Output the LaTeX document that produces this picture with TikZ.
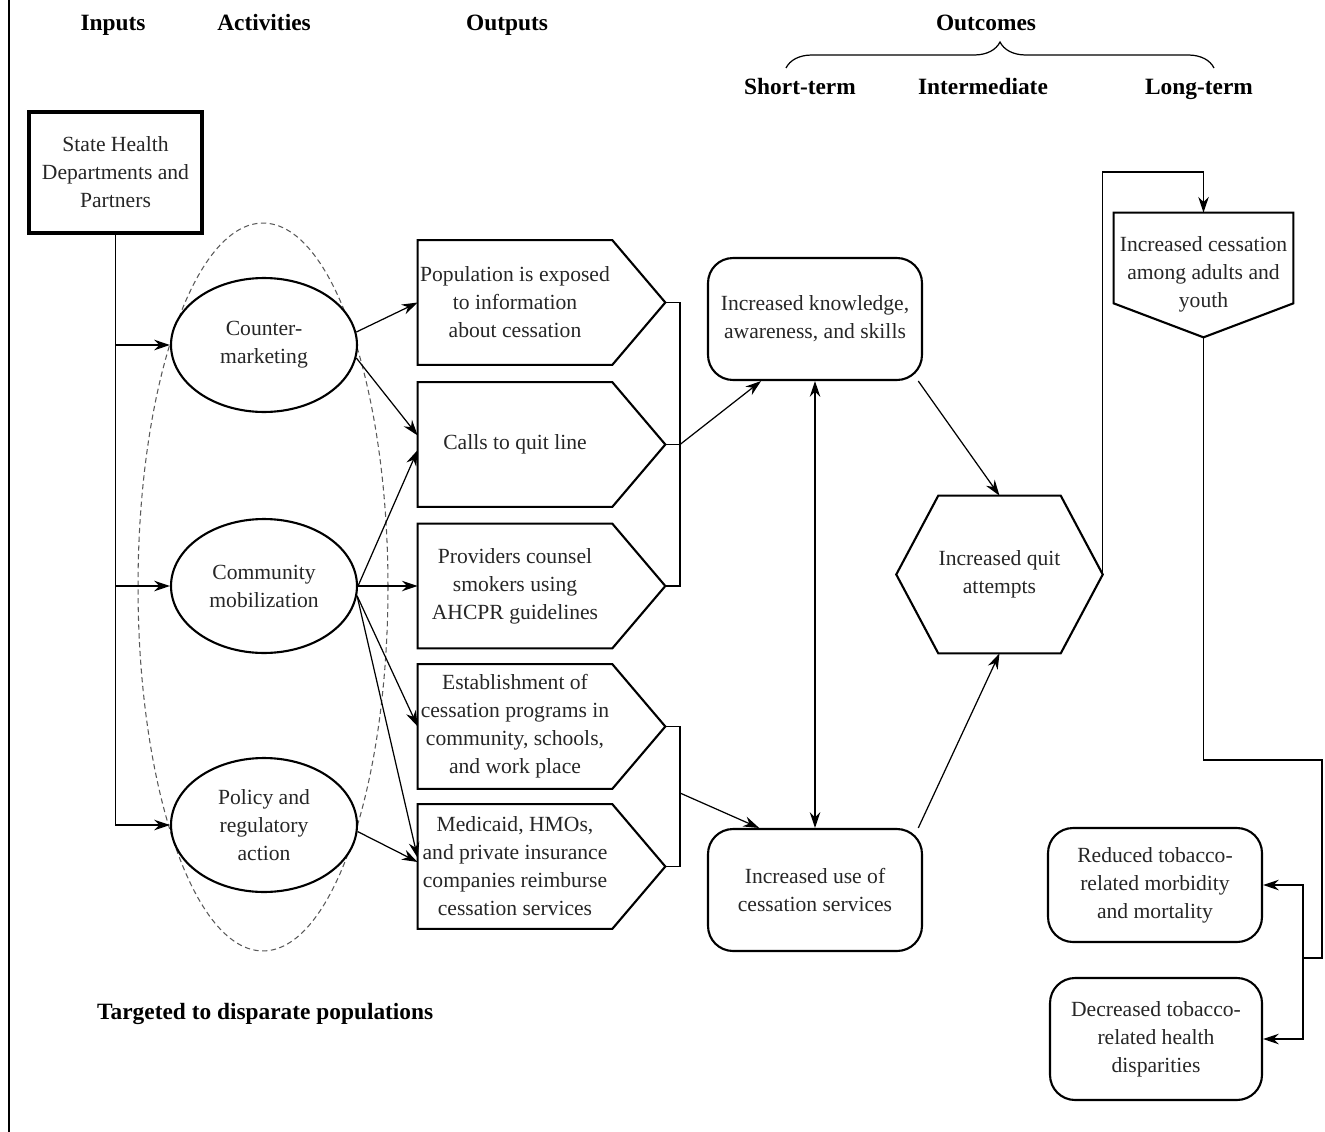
\documentclass[tikz,border=0pt]{standalone}
\usepackage{fontspec}
\setmainfont{Liberation Serif}
\usetikzlibrary{shapes.geometric, arrows.meta, decorations.pathreplacing}
\tikzset{>={Stealth[length=9pt,width=6pt]}}

% outline of an output box pointing to the right
\newcommand{\outshape}[1]{%
  \draw[boxline] (#1.north west) -- (#1.north east)
    -- ([xshift=1.06cm]#1.east) coordinate (#1-tip)
    -- (#1.south east) -- (#1.south west) -- cycle;}

\begin{document}
\begin{tikzpicture}[x=0.02cm, y=-0.02cm,
every node/.style={font=\fontsize{12.3}{15.9}\selectfont, text=black!85, align=center},
headlabel/.style={font=\fontsize{13.3}{16}\selectfont\bfseries, text=black, anchor=base},
inputbox/.style={rectangle, draw, line width=2pt, minimum width=3.46cm, minimum height=2.42cm},
activity/.style={ellipse, draw, line width=1.2pt, fill=white, minimum width=3.72cm, minimum height=2.68cm, inner sep=0pt},
outbody/.style={rectangle, minimum width=3.88cm, minimum height=2.48cm, inner sep=0pt},
outcome/.style={rectangle, rounded corners=0.5cm, draw, line width=1.2pt, minimum width=4.28cm, minimum height=2.44cm},
boxline/.style={line width=1.2pt, line join=miter},
link/.style={line width=0.7pt},
]
\useasboundingbox (0,0) rectangle (1325,1132);
\draw[line width=1pt] (9,0) -- (9,1132);

%Nodes
\node[headlabel] (inputs) at (113,31) {Inputs};
\node[headlabel] (activities) at (264,31) {Activities};
\node[headlabel] (outputs) at (507,31) {Outputs};
\node[headlabel] (outcomes) at (986,31) {Outcomes};
\node[headlabel] (shortterm) at (800,94) {Short-term};
\node[headlabel] (intermediate) at (983,94) {Intermediate};
\node[headlabel] (longterm) at (1199,94) {Long-term};

\node[inputbox] (state) at (115.5,172.5) {State Health\\Departments and\\Partners};

\node[ellipse, draw, densely dashed, black!65, line width=0.6pt, minimum width=5cm, minimum height=14.56cm] (group) at (263,587) {};
\node[activity] (counter) at (264,345) {Counter-\\marketing};
\node[activity] (community) at (264,586) {Community\\mobilization};
\node[activity] (policy) at (264,825) {Policy and\\regulatory\\action};

\node[outbody] (expose) at (515,302.5) {Population is exposed\\to information\\about cessation};
\node[outbody] (calls) at (515,444.5) {Calls to quit line};
\node[outbody] (counsel) at (515,586) {Providers counsel\\smokers using\\AHCPR guidelines};
\node[outbody] (estab) at (515,726.5) {Establishment of\\cessation programs in\\community, schools,\\and work place};
\node[outbody] (medicaid) at (515,866.5) {Medicaid, HMOs,\\and private insurance\\companies reimburse\\cessation services};

\node[outcome] (knowledge) at (815,319) {Increased knowledge,\\awareness, and skills};
\node[outcome] (use) at (815,890) {Increased use of\\cessation services};
\node[rectangle, minimum width=2.3cm, minimum height=3.14cm, inner sep=0pt] (quit) at (999.5,574.5) {Increased quit\\attempts};
\node[rectangle, minimum width=3.58cm, minimum height=2.44cm, inner sep=0pt] (cessation) at (1203.5,274) {Increased cessation\\among adults and\\youth};
\node[outcome, minimum height=2.28cm] (reduced) at (1155,885) {Reduced tobacco-\\related morbidity\\and mortality};
\node[outcome, minimum width=4.24cm] (decreased) at (1156,1039) {Decreased tobacco-\\related health\\disparities};

\node[headlabel, anchor=base west] (targeted) at (91,1019) {Targeted to disparate populations};

%Shapes
\outshape{expose}
\outshape{calls}
\outshape{counsel}
\outshape{estab}
\outshape{medicaid}
\draw[boxline] (quit.north west) -- (quit.north east) -- ([xshift=0.84cm]quit.east) coordinate (quit-tip)
  -- (quit.south east) -- (quit.south west) -- ([xshift=-0.84cm]quit.west) -- cycle;
\draw[boxline] (cessation.north west) -- (cessation.north east) -- ([yshift=0.64cm]cessation.south east)
  -- ([yshift=-0.04cm]cessation.south) coordinate (cessation-tip) -- ([yshift=0.64cm]cessation.south west) -- cycle;

\coordinate (braceL) at (786,68);
\coordinate (braceR) at (1214,68);
\coordinate (brA) at (680,444.5);
\coordinate (brB) at (680,793);
\coordinate (top) at (1150,172);
\coordinate (rbend) at (1322,760);
\coordinate (split) at (1303,958);

%Lines
\draw[link, decorate, decoration={brace, amplitude=0.52cm}] (braceL) -- (braceR);

\draw[link,->] (state.south) |- (counter.west);
\draw[link,->] (state.south) |- (community.west);
\draw[link,->] (state.south) |- (policy.west);

\draw[link,->] (counter.8) -- (expose.west);
\draw[link,->] (counter.-8) -- ([yshift=0.18cm]calls.west);
\draw[link,->] (community.east) -- ([yshift=-0.11cm]calls.west);
\draw[link,->] (community.east) -- (counsel.west);
\draw[link,->] (community.-6) -- (estab.west);
\draw[link,->] (community.-6) -- ([yshift=0.17cm]medicaid.west);
\draw[link,->] (policy.-4) -- ([yshift=0.09cm]medicaid.west);

\draw[link] (expose-tip) -| (brA) |- (counsel-tip);
\draw[link] (calls-tip) -- (brA);
\draw[link,->] (brA) -- (knowledge.229);
\draw[link] (estab-tip) -| (brB) |- (medicaid-tip);
\draw[link,->] (brB) -- (use.132);
\draw[link,<->] (knowledge.south) -- (use.north);
\draw[link,->] (knowledge.-31) -- (quit.north);
\draw[link,->] (use.31) -- (quit.south);
\draw[link,->] (quit-tip) |- (top) -| (cessation.north);
\draw[link] (cessation-tip) |- (rbend) |- (split);
\draw[link,->] (split) |- (reduced.east);
\draw[link,->] (split) |- (decreased.east);
\end{tikzpicture}
\end{document}
